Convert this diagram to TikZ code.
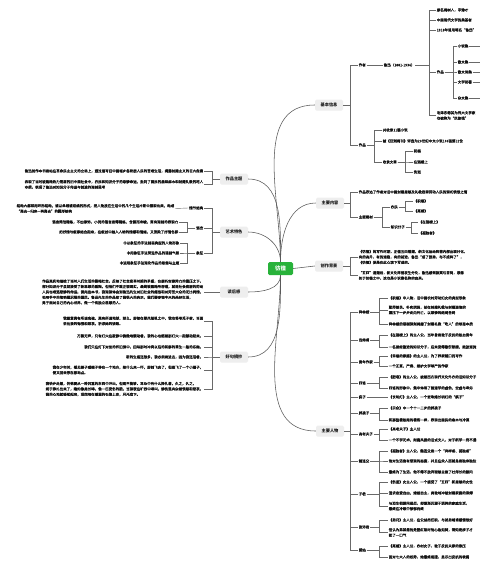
\documentclass[tikz,border=0pt]{standalone}
\usepackage{fontspec}
\setmainfont{Noto Sans CJK SC}
\newfontfamily\bodycjk{Noto Sans CJK SC}[FakeBold=0.35]
\usetikzlibrary{calc}
\definecolor{rootgreen}{RGB}{40,178,58}
\definecolor{topicgray}{RGB}{238,238,238}
\definecolor{linegray}{RGB}{105,105,105}
\definecolor{txtgray}{RGB}{20,20,20}
\newcommand*{\txtsize}{\bodycjk\fontsize{3.5}{5.4}\selectfont}
\newcommand*{\topsize}{\fontsize{4.2}{5}\selectfont\bfseries}
\newcommand*{\rootsize}{\fontsize{5.4}{6}\selectfont\bfseries}

\tikzset{
  rootbox/.style={fill=rootgreen, text=white, rounded corners=1.5pt, minimum width=25pt, minimum height=13pt, inner sep=1pt, font=\rootsize},
  topicbox/.style={fill=topicgray, text=txtgray, rounded corners=1.5pt, minimum width=28pt, minimum height=11pt, inner sep=1pt, font=\topsize},
  leaftext/.style={text=txtgray, inner sep=0.6pt, font=\txtsize, anchor=west, align=left},
  lefttext/.style={leaftext, anchor=east},
  linkline/.style={draw=linegray, line width=0.4pt},
  branchline/.style={draw=black!65, line width=0.55pt},
}

\begin{document}
\begin{tikzpicture}[x=1pt, y=-1pt]
    \fill [white] (0,0) rectangle (480,566);
    \useasboundingbox (0,0) rectangle (480,566);

    % centre and main topics
    \node [rootbox]  (fh)   at (280.5,268.5) {彷徨};
    \node [topicbox] (jbxx) at (329,105) {基本信息};
    \node [topicbox] (zynr) at (330,203) {主要内容};
    \node [topicbox] (czbj) at (329,266) {创作背景};
    \node [topicbox] (zyrw) at (330,431) {主要人物};
    \node [topicbox] (zpzt) at (234,179) {作品主题};
    \node [topicbox] (ystd) at (234,232) {艺术特色};
    \node [topicbox] (dhg)  at (234,292) {读后感};
    \node [topicbox] (hjzc) at (234,357) {好句摘抄};

    \draw [branchline] (fh.north) to[out=90,in=180] (jbxx.west);
    \draw [branchline] (fh.north) to[out=90,in=180] (zynr.west);
    \draw [branchline] (fh.east) -- (czbj.west);
    \draw [branchline] (fh.south) to[out=-90,in=180] (zyrw.west);
    \draw [branchline] (fh.north) to[out=90,in=0] (zpzt.east);
    \draw [branchline] (fh.north) to[out=90,in=0] (ystd.east);
    \draw [branchline] (fh.south) to[out=-90,in=0] (dhg.east);
    \draw [branchline] (fh.south) to[out=-90,in=0] (hjzc.east);

    % 基本信息
    \node [leaftext] (zz)   at (358,65)  {作者};
    \node [leaftext] (lx)   at (383,65)  {鲁迅（1881-1936）};
    \node [leaftext] (lx1)  at (436,10)  {原名周树人，字豫才};
    \node [leaftext] (lx2)  at (436,20)  {中国现代文学的奠基者};
    \node [leaftext] (lx3)  at (436,30)  {1918年首用笔名“鲁迅”};
    \node [leaftext] (zp2)  at (436,72)  {作品};
    \node [leaftext] (lx5)  at (436,115.5) {毛泽东称其为伟大文学家\\也被称为“民族魂”};
    \node [leaftext] (xsj)  at (457,46)  {小说集};
    \node [leaftext] (swj)  at (457,62)  {散文集};
    \node [leaftext] (swsj) at (457,72)  {散文诗集};
    \node [leaftext] (wxlz) at (457,82)  {文学论著};
    \node [leaftext] (zwj)  at (457,98)  {杂文集};
    \coordinate (xsjE)  at (481,46);
    \coordinate (swjE)  at (481,62);
    \coordinate (swsjE) at (481,72);
    \coordinate (wxlzE) at (481,82);
    \coordinate (zwjE)  at (481,98);
    \node [leaftext] (zp1)  at (358,145) {作品};
    \node [leaftext] (zp11) at (382,130) {共收录11篇小说};
    \node [leaftext] (zp12) at (382,141) {被《亚洲周刊》评选为20世纪中文小说100强第12位};
    \node [leaftext] (slwz) at (382,162) {收录文章};
    \node [leaftext] (zf)   at (413,151) {祝福};
    \node [leaftext] (zjl)  at (413,162) {在酒楼上};
    \node [leaftext] (ss)   at (413,172) {伤逝};

    \draw [linkline] (jbxx.east) -| ([xshift=-8pt]zz.west) -- (zz.west)
                     (jbxx.east) -| ([xshift=-8pt]zp1.west) -- (zp1.west);
    \draw [linkline] (zz.east) -- (lx.west);
    \draw [linkline] (lx.east) -| ([xshift=-7pt]lx1.west) -- (lx1.west)
                     (lx.east) -| ([xshift=-7pt]lx2.west) -- (lx2.west)
                     (lx.east) -| ([xshift=-7pt]lx3.west) -- (lx3.west)
                     (lx.east) -| ([xshift=-7pt]zp2.west) -- (zp2.west)
                     (lx.east) -| ([xshift=-7pt]lx5.west) -- (lx5.west);
    \draw [linkline] (zp2.east) -| ([xshift=-4pt]xsj.west) -- (xsj.west)
                     (zp2.east) -| ([xshift=-4pt]swj.west) -- (swj.west)
                     (zp2.east) -| ([xshift=-4pt]swsj.west) -- (swsj.west)
                     (zp2.east) -| ([xshift=-4pt]wxlz.west) -- (wxlz.west)
                     (zp2.east) -| ([xshift=-4pt]zwj.west) -- (zwj.west);
    \draw [linkline] (xsj.east) -- (xsjE) (swj.east) -- (swjE) (swsj.east) -- (swsjE)
                     (wxlz.east) -- (wxlzE) (zwj.east) -- (zwjE);
    \draw [linkline] (zp1.east) -| ([xshift=-8pt]zp11.west) -- (zp11.west)
                     (zp1.east) -| ([xshift=-8pt]zp12.west) -- (zp12.west)
                     (zp1.east) -| ([xshift=-8pt]slwz.west) -- (slwz.west);
    \draw [linkline] (slwz.east) -| ([xshift=-8pt]zf.west) -- (zf.west)
                     (slwz.east) -| ([xshift=-8pt]zjl.west) -- (zjl.west)
                     (slwz.east) -| ([xshift=-8pt]ss.west) -- (ss.west);

    % 主要内容
    \node [leaftext] (nr1)  at (358,192) {作品表达了作者对旧中国封建思想及礼教戕害劳动人民的深切愤恨之情};
    \node [leaftext] (ztc)  at (358,217) {主要题材};
    \node [leaftext] (nm)   at (390,207) {农民};
    \node [leaftext] (zsfz) at (390,227) {知识分子};
    \node [leaftext] (nm1)  at (413,201) {《祝福》};
    \node [leaftext] (nm2)  at (413,211) {《离婚》};
    \node [leaftext] (zs1)  at (418,222) {《在酒楼上》};
    \node [leaftext] (zs2)  at (418,233) {《孤独者》};

    \draw [linkline] (zynr.east) -| ([xshift=-8pt]nr1.west) -- (nr1.west)
                     (zynr.east) -| ([xshift=-8pt]ztc.west) -- (ztc.west);
    \draw [linkline] (ztc.east) -| ([xshift=-8pt]nm.west) -- (nm.west)
                     (ztc.east) -| ([xshift=-8pt]zsfz.west) -- (zsfz.west);
    \draw [linkline] (nm.east) -| ([xshift=-8pt]nm1.west) -- (nm1.west)
                     (nm.east) -| ([xshift=-8pt]nm2.west) -- (nm2.west);
    \draw [linkline] (zsfz.east) -| ([xshift=-7pt]zs1.west) -- (zs1.west)
                     (zsfz.east) -| ([xshift=-7pt]zs2.west) -- (zs2.west);

    % 创作背景
    \node [leaftext] (bj1) at (358,257) {《彷徨》的写作时期，正值五四落潮，新文化运动阵营内部出现分化，\\有的高升，有的退隐，有的前进，鲁迅“成了游勇，布不成阵了”，\\《彷徨》便是在此心境下写成的。};
    \node [leaftext] (bj2) at (358,275.5) {“五四”退潮后，新文化阵营发生分化，鲁迅感到寂寞与苦闷，思想\\处于彷徨之中，这也是小说集名称的由来。};

    \draw [linkline] (czbj.east) -| ([xshift=-8pt]bj1.west) -- (bj1.west)
                     (czbj.east) -| ([xshift=-8pt]bj2.west) -- (bj2.west);

    % 主要人物
    \node [leaftext] (xlx)  at (358,312) {祥林嫂};
    \node [leaftext] (lwf)  at (358,340) {吕纬甫};
    \node [leaftext] (qnzj) at (358,362) {青年作家};
    \node [leaftext] (sm)   at (358,383) {四铭};
    \node [leaftext] (fz)   at (358,397) {疯子};
    \node [leaftext] (phz)  at (358,413) {胖孩子};
    \node [leaftext] (glfz) at (358,434) {高老夫子};
    \node [leaftext] (wls)  at (358,461) {魏连殳};
    \node [leaftext] (zj)   at (358,494) {子君};
    \node [leaftext] (zpj)  at (358,527) {张沛君};
    \node [leaftext] (ag)   at (358,550) {爱姑};

    \node [leaftext] (xlx1) at (388,298) {《祝福》中人物，旧中国农村劳动妇女的典型形象};
    \node [leaftext] (xlx2) at (388,310) {勤劳善良、朴实顽强，却在封建礼教与封建迷信的\\重压下一步步走向死亡，以悲惨的结局告终};
    \node [leaftext] (xlx3) at (388,324) {祥林嫂的悲剧深刻揭露了封建礼教“吃人”的罪恶本质};
    \node [leaftext] (lwf1) at (388,335) {《在酒楼上》的主人公，当年曾是敢于反抗的热血青年};
    \node [leaftext] (lwf2) at (388,347) {一名曾经激进的知识分子，后来变得敷衍颓唐、随波逐流};
    \node [leaftext] (qn1)  at (388,356) {《幸福的家庭》的主人公，为了养家糊口而写作};
    \node [leaftext] (qn2)  at (388,366) {一个正直、严肃、维护文学尊严的作家};
    \node [leaftext] (sm1)  at (388,377) {《肥皂》的主人公，披着西方现代文化外衣的旧知识分子};
    \node [leaftext] (sm2)  at (388,388) {四铭的形象中，集中体现了假道学的虚伪、空虚与卑劣};
    \node [leaftext] (fz1)  at (388,397) {《长明灯》主人公，一个要吹熄长明灯的“疯子”};
    \node [leaftext] (phz1) at (388,408) {《示众》中一个十一二岁的胖孩子};
    \node [leaftext] (phz2) at (388,420) {和那些看热闹的看客一样，表现出国民的麻木与冷漠};
    \node [leaftext] (gl1)  at (388,429) {《高老夫子》主人公};
    \node [leaftext] (gl2)  at (388,440) {一个不学无术、附庸风雅的旧式文人，对于新学一窍不通};
    \node [leaftext] (wls1) at (388,451) {《孤独者》主人公，魏连殳是一个“异样者、孤独者”};
    \node [leaftext] (wls2) at (388,461) {他对生活抱有悲观的态度，并且在众人面前总是独来独往};
    \node [leaftext] (wls3) at (388,472) {最终为了生活，他不得不放弃理想去做了杜师长的顾问};
    \node [leaftext] (zj1)  at (388,482) {《伤逝》女主人公，一个接受了“五四”新思想的女性};
    \node [leaftext] (zj2)  at (388,493) {追求恋爱自由、婚姻自主，勇敢地冲破封建家庭的束缚};
    \node [leaftext] (zj3)  at (388,506) {与涓生相爱同居后，却逐渐沉溺于琐碎的家庭生活，\\最终在冷眼中郁郁而终};
    \node [leaftext] (zpj1) at (388,520) {《弟兄》主人公，在公益局任职，与弟弟靖甫感情很好};
    \node [leaftext] (zpj2) at (388,532.5) {但认为弟弟患的是猩红热时他心急如焚，得知是疹子才\\松了一口气};
    \node [leaftext] (ag1)  at (388,546) {《离婚》主人公，农村女子，敢于反抗夫家的欺压};
    \node [leaftext] (ag2)  at (388,557) {面对七大人的权势，她最终屈服，显示出反抗的软弱};

    \draw [linkline] (zyrw.east) -| ([xshift=-8pt]xlx.west) -- (xlx.west)
                     (zyrw.east) -| ([xshift=-8pt]lwf.west) -- (lwf.west)
                     (zyrw.east) -| ([xshift=-8pt]qnzj.west) -- (qnzj.west)
                     (zyrw.east) -| ([xshift=-8pt]sm.west) -- (sm.west)
                     (zyrw.east) -| ([xshift=-8pt]fz.west) -- (fz.west)
                     (zyrw.east) -| ([xshift=-8pt]phz.west) -- (phz.west)
                     (zyrw.east) -| ([xshift=-8pt]glfz.west) -- (glfz.west)
                     (zyrw.east) -| ([xshift=-8pt]wls.west) -- (wls.west)
                     (zyrw.east) -| ([xshift=-8pt]zj.west) -- (zj.west)
                     (zyrw.east) -| ([xshift=-8pt]zpj.west) -- (zpj.west)
                     (zyrw.east) -| ([xshift=-8pt]ag.west) -- (ag.west);
    \draw [linkline] (xlx.east) -| ([xshift=-9pt]xlx1.west) -- (xlx1.west)
                     (xlx.east) -| ([xshift=-9pt]xlx2.west) -- (xlx2.west)
                     (xlx.east) -| ([xshift=-9pt]xlx3.west) -- (xlx3.west);
    \draw [linkline] (lwf.east) -| ([xshift=-9pt]lwf1.west) -- (lwf1.west)
                     (lwf.east) -| ([xshift=-9pt]lwf2.west) -- (lwf2.west);
    \draw [linkline] (qnzj.east) -| ([xshift=-9pt]qn1.west) -- (qn1.west)
                     (qnzj.east) -| ([xshift=-9pt]qn2.west) -- (qn2.west);
    \draw [linkline] (sm.east) -| ([xshift=-9pt]sm1.west) -- (sm1.west)
                     (sm.east) -| ([xshift=-9pt]sm2.west) -- (sm2.west);
    \draw [linkline] (fz.east) -- (fz1.west);
    \draw [linkline] (phz.east) -| ([xshift=-9pt]phz1.west) -- (phz1.west)
                     (phz.east) -| ([xshift=-9pt]phz2.west) -- (phz2.west);
    \draw [linkline] (glfz.east) -| ([xshift=-9pt]gl1.west) -- (gl1.west)
                     (glfz.east) -| ([xshift=-9pt]gl2.west) -- (gl2.west);
    \draw [linkline] (wls.east) -| ([xshift=-9pt]wls1.west) -- (wls1.west)
                     (wls.east) -| ([xshift=-9pt]wls2.west) -- (wls2.west)
                     (wls.east) -| ([xshift=-9pt]wls3.west) -- (wls3.west);
    \draw [linkline] (zj.east) -| ([xshift=-9pt]zj1.west) -- (zj1.west)
                     (zj.east) -| ([xshift=-9pt]zj2.west) -- (zj2.west)
                     (zj.east) -| ([xshift=-9pt]zj3.west) -- (zj3.west);
    \draw [linkline] (zpj.east) -| ([xshift=-9pt]zpj1.west) -- (zpj1.west)
                     (zpj.east) -| ([xshift=-9pt]zpj2.west) -- (zpj2.west);
    \draw [linkline] (ag.east) -| ([xshift=-9pt]ag1.west) -- (ag1.west)
                     (ag.east) -| ([xshift=-9pt]ag2.west) -- (ag2.west);

    % 作品主题
    \node [lefttext] (zt1) at (204,171) {鲁迅创作本书是站在革命民主主义的立场上，通过描写旧中国城乡各阶层人民的苦难生活，揭露封建主义的巨大危害};
    \node [lefttext] (zt2) at (204,184.5) {表现了当时被黑暗势力笼罩的旧中国社会中，农民和知识分子的悲惨命运，批判了国民的愚昧麻木和封建礼教的吃人\\本质，表现了鲁迅对知识分子命运与前途的深刻思考};

    \draw [linkline] (zpzt.west) -| ([xshift=8pt]zt1.east) -- (zt1.east)
                     (zpzt.west) -| ([xshift=8pt]zt2.east) -- (zt2.east);

    % 艺术特色
    \node [lefttext] (qjjg) at (204,208) {情节结构};
    \node [lefttext] (qj1)  at (175,208.5) {结构大都采用环形结构，或以单线或双线的形式，把人物放在生活中的几个生活片断中展现出来，构成\\“离去—归来—再离去”的圆形结构};
    \node [lefttext] (yy)   at (204,228) {语言};
    \node [lefttext] (yy1)  at (179,222) {语言简洁精练，不加修饰，小说的语言显得精练、含蓄而冷峻，富有深刻的表现力};
    \node [lefttext] (yy2)  at (179,232) {把抒情与叙事结合起来，在叙述中融入人物的情感和情绪，又渲染了抒情色彩};
    \node [lefttext] (xz)   at (204,253) {象征};
    \node [lefttext] (xz1)  at (180,243) {①以象征的手法刻画典型的人物形象};
    \node [lefttext] (xz2)  at (180,253) {②用象征手法营造作品的悲剧气氛};
    \node [lefttext] (xz3)  at (180,263) {③运用象征手法深化作品的思想与主题};

    \draw [linkline] (ystd.west) -| ([xshift=8pt]qjjg.east) -- (qjjg.east)
                     (ystd.west) -| ([xshift=8pt]yy.east) -- (yy.east)
                     (ystd.west) -| ([xshift=8pt]xz.east) -- (xz.east);
    \draw [linkline] (qjjg.west) -- (qj1.east);
    \draw [linkline] (yy.west) -| ([xshift=8pt]yy1.east) -- (yy1.east)
                     (yy.west) -| ([xshift=8pt]yy2.east) -- (yy2.east);
    \draw [linkline] (xz.west) -| ([xshift=7pt]xz1.east) -- (xz1.east)
                     (xz.west) -| ([xshift=7pt]xz2.east) -- (xz2.east)
                     (xz.west) -| ([xshift=7pt]xz3.east) -- (xz3.east);

    % 读后感
    \node [lefttext] (dh1) at (204,292) {作品真实地描绘了当时人们生活的黑暗社会，反映了社会变革时期的矛盾，在腐朽封建势力的重压之下，\\部分知识分子虽然接受了新思想的熏陶，但他们不敢正视现实，最终被黑暗所吞噬，就连社会底层的劳动\\人民也难逃悲惨的命运。读完这本书，我深深体会到鲁迅先生对旧社会的痛恨和对劳苦大众的无比同情，\\他用手中的笔唤醒沉睡的国民。鲁迅先生的作品给了我很大的启示，我们要珍惜今天的美好生活，\\勇于面对自己的内心世界，做一个有独立思想的人。};

    \draw [linkline] (dhg.west) -- (dh1.east);

    % 好句摘抄
    \node [lefttext] (h1) at (204,321) {我愿意真有所谓鬼魂，真有所谓地狱，那么，即使在孽风怒吼之中，我也将寻觅子君，当面\\说出我的悔恨和悲哀，祈求她的饶恕。};
    \node [lefttext] (h2) at (204,336) {万籁无声，只有灯火在寂静中微微地颤动着，我的心也随着那灯火一起颤动起来。};
    \node [lefttext] (h3) at (204,347) {我们只在灯下对坐的怀旧谭中，回味那时冲突以后的和解的重生一般的乐趣。};
    \node [lefttext] (h4) at (204,357) {新的生路还很多，我必须跨进去，因为我还活着。};
    \node [lefttext] (h5) at (204,370) {我在少年时，看见蜂子或蝇子停在一个地方，给什么来一吓，即刻飞去了，但是飞了一个小圈子，\\便又回来停在原地点。};
    \node [lefttext] (h6) at (204,389) {我快步走着，仿佛要从一种沉重的东西中冲出，但是不能够。耳朵中有什么挣扎着，久之，久之，\\终于挣扎出来了，隐约像是长嗥，像一匹受伤的狼，当深夜在旷野中嗥叫，惨伤里夹杂着愤怒和悲哀。\\我的心地就轻松起来，坦然地在潮湿的石路上走，月光底下。};

    \draw [linkline] (hjzc.west) -| ([xshift=8pt]h1.east) -- (h1.east)
                     (hjzc.west) -| ([xshift=8pt]h2.east) -- (h2.east)
                     (hjzc.west) -| ([xshift=8pt]h3.east) -- (h3.east)
                     (hjzc.west) -| ([xshift=8pt]h4.east) -- (h4.east)
                     (hjzc.west) -| ([xshift=8pt]h5.east) -- (h5.east)
                     (hjzc.west) -| ([xshift=8pt]h6.east) -- (h6.east);
\end{tikzpicture}
\end{document}
